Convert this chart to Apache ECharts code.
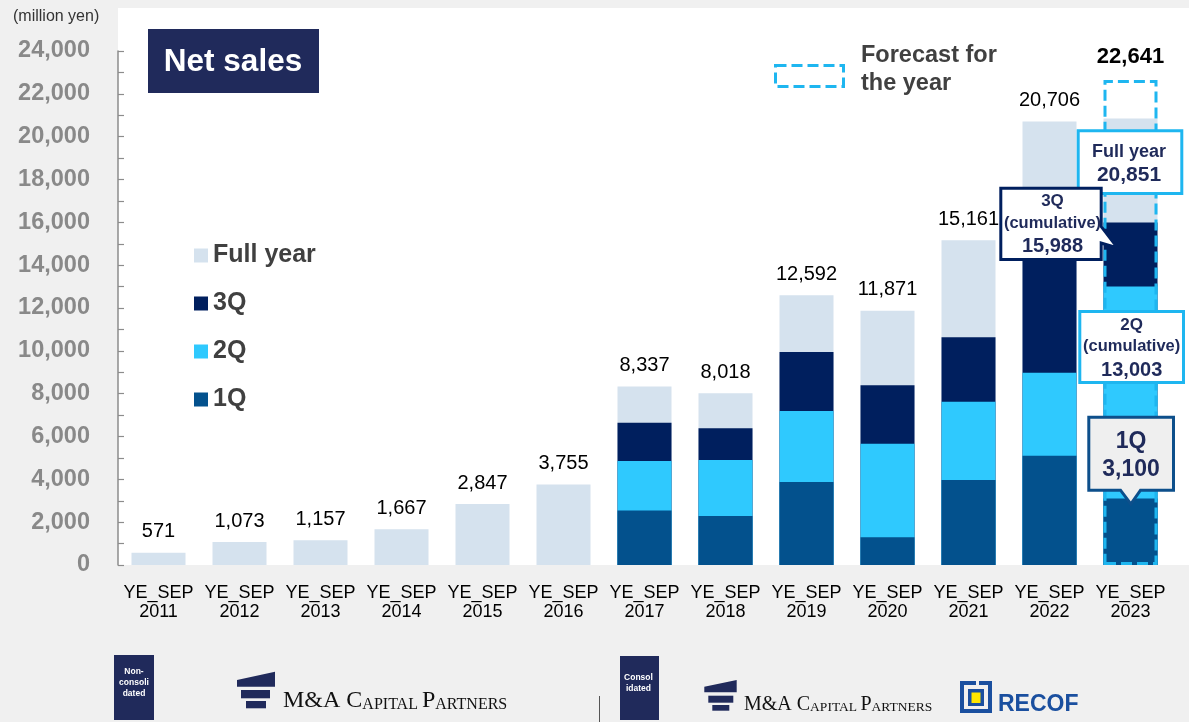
<!DOCTYPE html>
<html><head><meta charset="utf-8">
<script src="https://cdn.jsdelivr.net/npm/echarts@6/dist/echarts.min.js"></script>
<style>html,body{margin:0;padding:0;background:#f0f0f0}#c{width:1189px;height:722px}</style>
</head><body><div id="c"></div>
<script>
// ---------- data ----------
const categories = ['YE_SEP\n2011','YE_SEP\n2012','YE_SEP\n2013','YE_SEP\n2014','YE_SEP\n2015','YE_SEP\n2016',
  'YE_SEP\n2017','YE_SEP\n2018','YE_SEP\n2019','YE_SEP\n2020','YE_SEP\n2021','YE_SEP\n2022','YE_SEP\n2023'];
const fullYear = [571, 1073, 1157, 1667, 2847, 3755, 8337, 8018, 12592, 11871, 15161, 20706, 20851];
const q3Cum   = ['-','-','-','-','-','-', 6640, 6380, 9940, 8390, 10640, 15000, 15988];
const q2Cum   = ['-','-','-','-','-','-', 4860, 4900, 7190, 5660, 7620, 8980, 13003];
const q1      = ['-','-','-','-','-','-', 2540, 2290, 3870, 1290, 3970, 5100, 3100];
const forecast = ['-','-','-','-','-','-','-','-','-','-','-','-', 22641];
const seriesNames = ['Full year', '3Q', '2Q', '1Q'];
const forecastName = 'Forecast for\nthe year';
const yMin = 0, yMax = 24000, yInterval = 2000;
const unitLabel = '(million yen)';
const titleText = 'Net sales';

// ---------- styles ----------
const FONT = '"Liberation Sans", Arial, sans-serif';
const SERIF = '"Liberation Serif", "Times New Roman", serif';
const C_FULL = '#d5e2ee', C_3Q = '#001f5e', C_2Q = '#2fc9fe', C_1Q = '#03518d';
const C_DASH = '#1eb6f0', NAVY = '#202a5b', TXT_NAVY = '#1f2a5a';
const fmt = v => Number(v).toLocaleString('en-US');
const BW = 54;

const chart = echarts.init(document.getElementById('c'), null, {renderer: 'canvas', width: 1189, height: 722});
const last = categories.length - 1;

const option = {
  backgroundColor: '#f0f0f0',
  animation: false,
  grid: {left: 118, right: 18, top: 51, bottom: 157, outerBoundsMode: 'none'},
  legend: {
    data: seriesNames, orient: 'vertical', left: 194, top: 243, padding: 0,
    itemWidth: 14, itemHeight: 14, itemGap: 23, icon: 'rect',
    textStyle: {fontSize: 25, fontWeight: 'bold', color: '#404040', fontFamily: FONT, lineHeight: 25},
    selectedMode: false
  },
  xAxis: {
    type: 'category',
    data: categories,
    axisLine: {show: false}, axisTick: {show: false},
    axisLabel: {interval: 0, color: '#000', fontSize: 18, lineHeight: 19, margin: 19, fontFamily: FONT}
  },
  yAxis: {
    type: 'value', min: yMin, max: yMax, interval: yInterval,
    splitLine: {show: false},
    axisLine: {show: true, lineStyle: {color: '#8c8c8c', width: 1.5}},
    axisTick: {show: true, inside: true, length: 6, lineStyle: {color: '#8c8c8c', width: 1.2}},
    minorTick: {show: true, splitNumber: 2, length: 6, lineStyle: {color: '#8c8c8c', width: 1.2}},
    axisLabel: {color: '#898989', fontSize: 23.5, fontWeight: 'bold', margin: 28, fontFamily: FONT, formatter: v => fmt(v)}
  },
  series: [
    {name: seriesNames[0], type: 'bar', barWidth: BW, barGap: '-100%', z: 2,
      itemStyle: {color: C_FULL},
      label: {show: true, position: 'top', distance: 11, color: '#000', fontSize: 20, fontFamily: FONT, formatter: p => fmt(p.value)},
      data: fullYear.map((v, i) => i === last ? {value: v, label: {show: false}} : v)},
    {name: seriesNames[1], type: 'bar', barWidth: BW, barGap: '-100%', z: 3, itemStyle: {color: C_3Q}, data: q3Cum},
    {name: seriesNames[2], type: 'bar', barWidth: BW, barGap: '-100%', z: 4, itemStyle: {color: C_2Q}, data: q2Cum},
    {name: seriesNames[3], type: 'bar', barWidth: BW, barGap: '-100%', z: 5, itemStyle: {color: C_1Q}, data: q1},
    {name: forecastName, type: 'bar', barWidth: BW, barGap: '-100%', z: 6,
      itemStyle: {color: 'rgba(0,0,0,0)', borderColor: C_DASH, borderWidth: 3, borderType: [11, 5]},
      label: {show: true, position: 'top', distance: 12, color: '#000', fontSize: 22, fontWeight: 'bold', fontFamily: FONT, formatter: p => fmt(p.value)},
      data: forecast}
  ]
};
chart.setOption(option);

function txt(text, x, y, size, color, opts) {
  return Object.assign({type: 'text', z: 120, silent: true,
    style: Object.assign({text: text, x: x, y: y, fontSize: size, fontWeight: 'bold', fontFamily: FONT, fill: color,
      align: 'center', verticalAlign: 'middle'}, (opts || {}))});
}

function buildGraphics() {
  const px = (i, v) => chart.convertToPixel({gridIndex: 0}, [i, v]);
  const g = [];
  const origin = px(0, 0);
  g.push({type: 'rect', z: -100, silent: true, shape: {x: 118, y: 8, width: 1189 - 118, height: origin[1] - 8}, style: {fill: '#ffffff'}});
  g.push(txt(unitLabel, 13, 17, 16, '#333', {fontWeight: 'normal', align: 'left'}));
  g.push({type: 'rect', z: 50, silent: true, shape: {x: 148, y: 29, width: 171, height: 64}, style: {fill: NAVY}});
  g.push(txt(titleText, 233, 62, 31.5, '#ffffff'));
  g.push({type: 'rect', z: 50, silent: true, shape: {x: 775.5, y: 65.5, width: 68, height: 21},
    style: {fill: 'none', stroke: C_DASH, lineWidth: 3, lineDash: [11, 5]}});
  g.push(txt(forecastName, 861, 69.5, 23.5, '#404040', {align: 'left', lineHeight: 28.5}));

  const [cx, yF] = px(last, fullYear[last]);
  const y3 = px(last, q3Cum[last])[1];
  const y2 = px(last, q2Cum[last])[1];
  const y1 = px(last, q1[last])[1];

  g.push({type: 'rect', z: 110, silent: true, shape: {x: cx - 52.3, y: yF + 12.4, width: 103.6, height: 62.7},
    style: {fill: '#fff', stroke: C_DASH, lineWidth: 3}});
  g.push(txt(seriesNames[0], cx - 1.5, yF + 33.5, 18, TXT_NAVY));
  g.push(txt(fmt(fullYear[last]), cx - 1.5, yF + 56.8, 21, TXT_NAVY));

  {
    const L = cx - 129.7, R = cx - 29.3, T = y3 - 34.4, B = y3 + 36.9;
    g.push({type: 'polygon', z: 110, silent: true,
      shape: {points: [[L, T], [R, T], [R, y3 + 4], [cx - 12.8, y3 + 25.4], [R, y3 + 20.5], [R, B], [L, B]]},
      style: {fill: '#fff', stroke: C_3Q, lineWidth: 3, lineJoin: 'miter'}});
    g.push(txt('3Q', cx - 78, y3 - 21, 17, TXT_NAVY));
    g.push(txt('(cumulative)', cx - 78, y3 + 0.7, 16.5, TXT_NAVY));
    g.push(txt(fmt(q3Cum[last]), cx - 78, y3 + 24, 20, TXT_NAVY));
  }
  g.push({type: 'rect', z: 110, silent: true, shape: {x: cx - 50.7, y: y2 + 25, width: 103.7, height: 71},
    style: {fill: '#fff', stroke: C_DASH, lineWidth: 3}});
  g.push(txt('2Q', cx + 1.2, y2 + 38.5, 17, TXT_NAVY));
  g.push(txt('(cumulative)', cx + 1.2, y2 + 60.2, 16.5, TXT_NAVY));
  g.push(txt(fmt(q2Cum[last]), cx + 1.2, y2 + 83.5, 20, TXT_NAVY));
  {
    const L = cx - 41.7, R = cx + 43, T = y1 - 81.4, B = y1 - 8.4;
    g.push({type: 'polygon', z: 110, silent: true,
      shape: {points: [[L, T], [R, T], [R, B], [cx + 10, B], [cx + 0.3, y1 + 5.4], [cx - 10, B], [L, B]]},
      style: {fill: '#efefef', stroke: '#0d4f8b', lineWidth: 3, lineJoin: 'miter'}});
    g.push(txt('1Q', cx + 0.5, y1 - 56.9, 23, TXT_NAVY));
    g.push(txt(fmt(q1[last]), cx + 0.5, y1 - 28.6, 23, TXT_NAVY));
  }

  // ---------- footer logos ----------
  g.push({type: 'rect', silent: true, shape: {x: 114, y: 655, width: 40, height: 65}, style: {fill: NAVY}});
  g.push(txt('Non-\nconsoli\ndated', 134, 683, 8.5, '#fff', {lineHeight: 11}));
  g.push({type: 'polygon', silent: true, shape: {points: [[237, 680], [275, 671.7], [275, 686.7], [237, 686.7]]}, style: {fill: NAVY}});
  g.push({type: 'rect', silent: true, shape: {x: 241, y: 690, width: 29, height: 8.3}, style: {fill: NAVY}});
  g.push({type: 'rect', silent: true, shape: {x: 246, y: 701, width: 20, height: 7.3}, style: {fill: NAVY}});
  g.push({type: 'text', silent: true, style: {x: 283, y: 712.9, align: 'left', verticalAlign: 'bottom', fill: '#111',
    text: '{b|M&A C}{s|APITAL }{b|P}{s|ARTNERS}',
    rich: {b: {fontFamily: SERIF, fontSize: 24, verticalAlign: 'bottom', fill: '#111'},
           s: {fontFamily: SERIF, fontSize: 16, verticalAlign: 'bottom', fill: '#111'}}}});
  g.push({type: 'line', silent: true, shape: {x1: 599.5, y1: 696, x2: 599.5, y2: 722}, style: {stroke: '#555', lineWidth: 1}});
  g.push({type: 'rect', silent: true, shape: {x: 620, y: 656, width: 39, height: 64}, style: {fill: NAVY}});
  g.push(txt('Consol\nidated', 638.5, 683.5, 8.5, '#fff', {lineHeight: 11}));
  g.push({type: 'polygon', silent: true, shape: {points: [[704.3, 686.7], [736.7, 680], [736.7, 692.3], [704.3, 692.3]]}, style: {fill: NAVY}});
  g.push({type: 'rect', silent: true, shape: {x: 708.3, y: 695.7, width: 25, height: 7}, style: {fill: NAVY}});
  g.push({type: 'rect', silent: true, shape: {x: 712.3, y: 705, width: 17, height: 5.7}, style: {fill: NAVY}});
  g.push({type: 'text', silent: true, style: {x: 744, y: 714.3, align: 'left', verticalAlign: 'bottom', fill: '#111',
    text: '{b|M&A C}{s|APITAL }{b|P}{s|ARTNERS}',
    rich: {b: {fontFamily: SERIF, fontSize: 20, verticalAlign: 'bottom', fill: '#111'},
           s: {fontFamily: SERIF, fontSize: 13.5, verticalAlign: 'bottom', fill: '#111'}}}});
  const RB = '#1a4f9f';
  g.push({type: 'rect', silent: true, shape: {x: 960, y: 681, width: 32, height: 32}, style: {fill: RB}});
  g.push({type: 'rect', silent: true, shape: {x: 964, y: 685, width: 24, height: 24}, style: {fill: '#f0f0f0'}});
  g.push({type: 'rect', silent: true, shape: {x: 968, y: 689, width: 16, height: 17}, style: {fill: RB}});
  g.push({type: 'rect', silent: true, shape: {x: 976, y: 681, width: 3, height: 8}, style: {fill: '#f0f0f0'}});
  g.push({type: 'rect', silent: true, shape: {x: 971.5, y: 692.5, width: 9, height: 10.5}, style: {fill: '#ffe600'}});
  g.push(txt('RECOF', 998, 704.5, 23, RB, {align: 'left'}));
  return g;
}
chart.setOption({graphic: buildGraphics()});
</script>
</body></html>
